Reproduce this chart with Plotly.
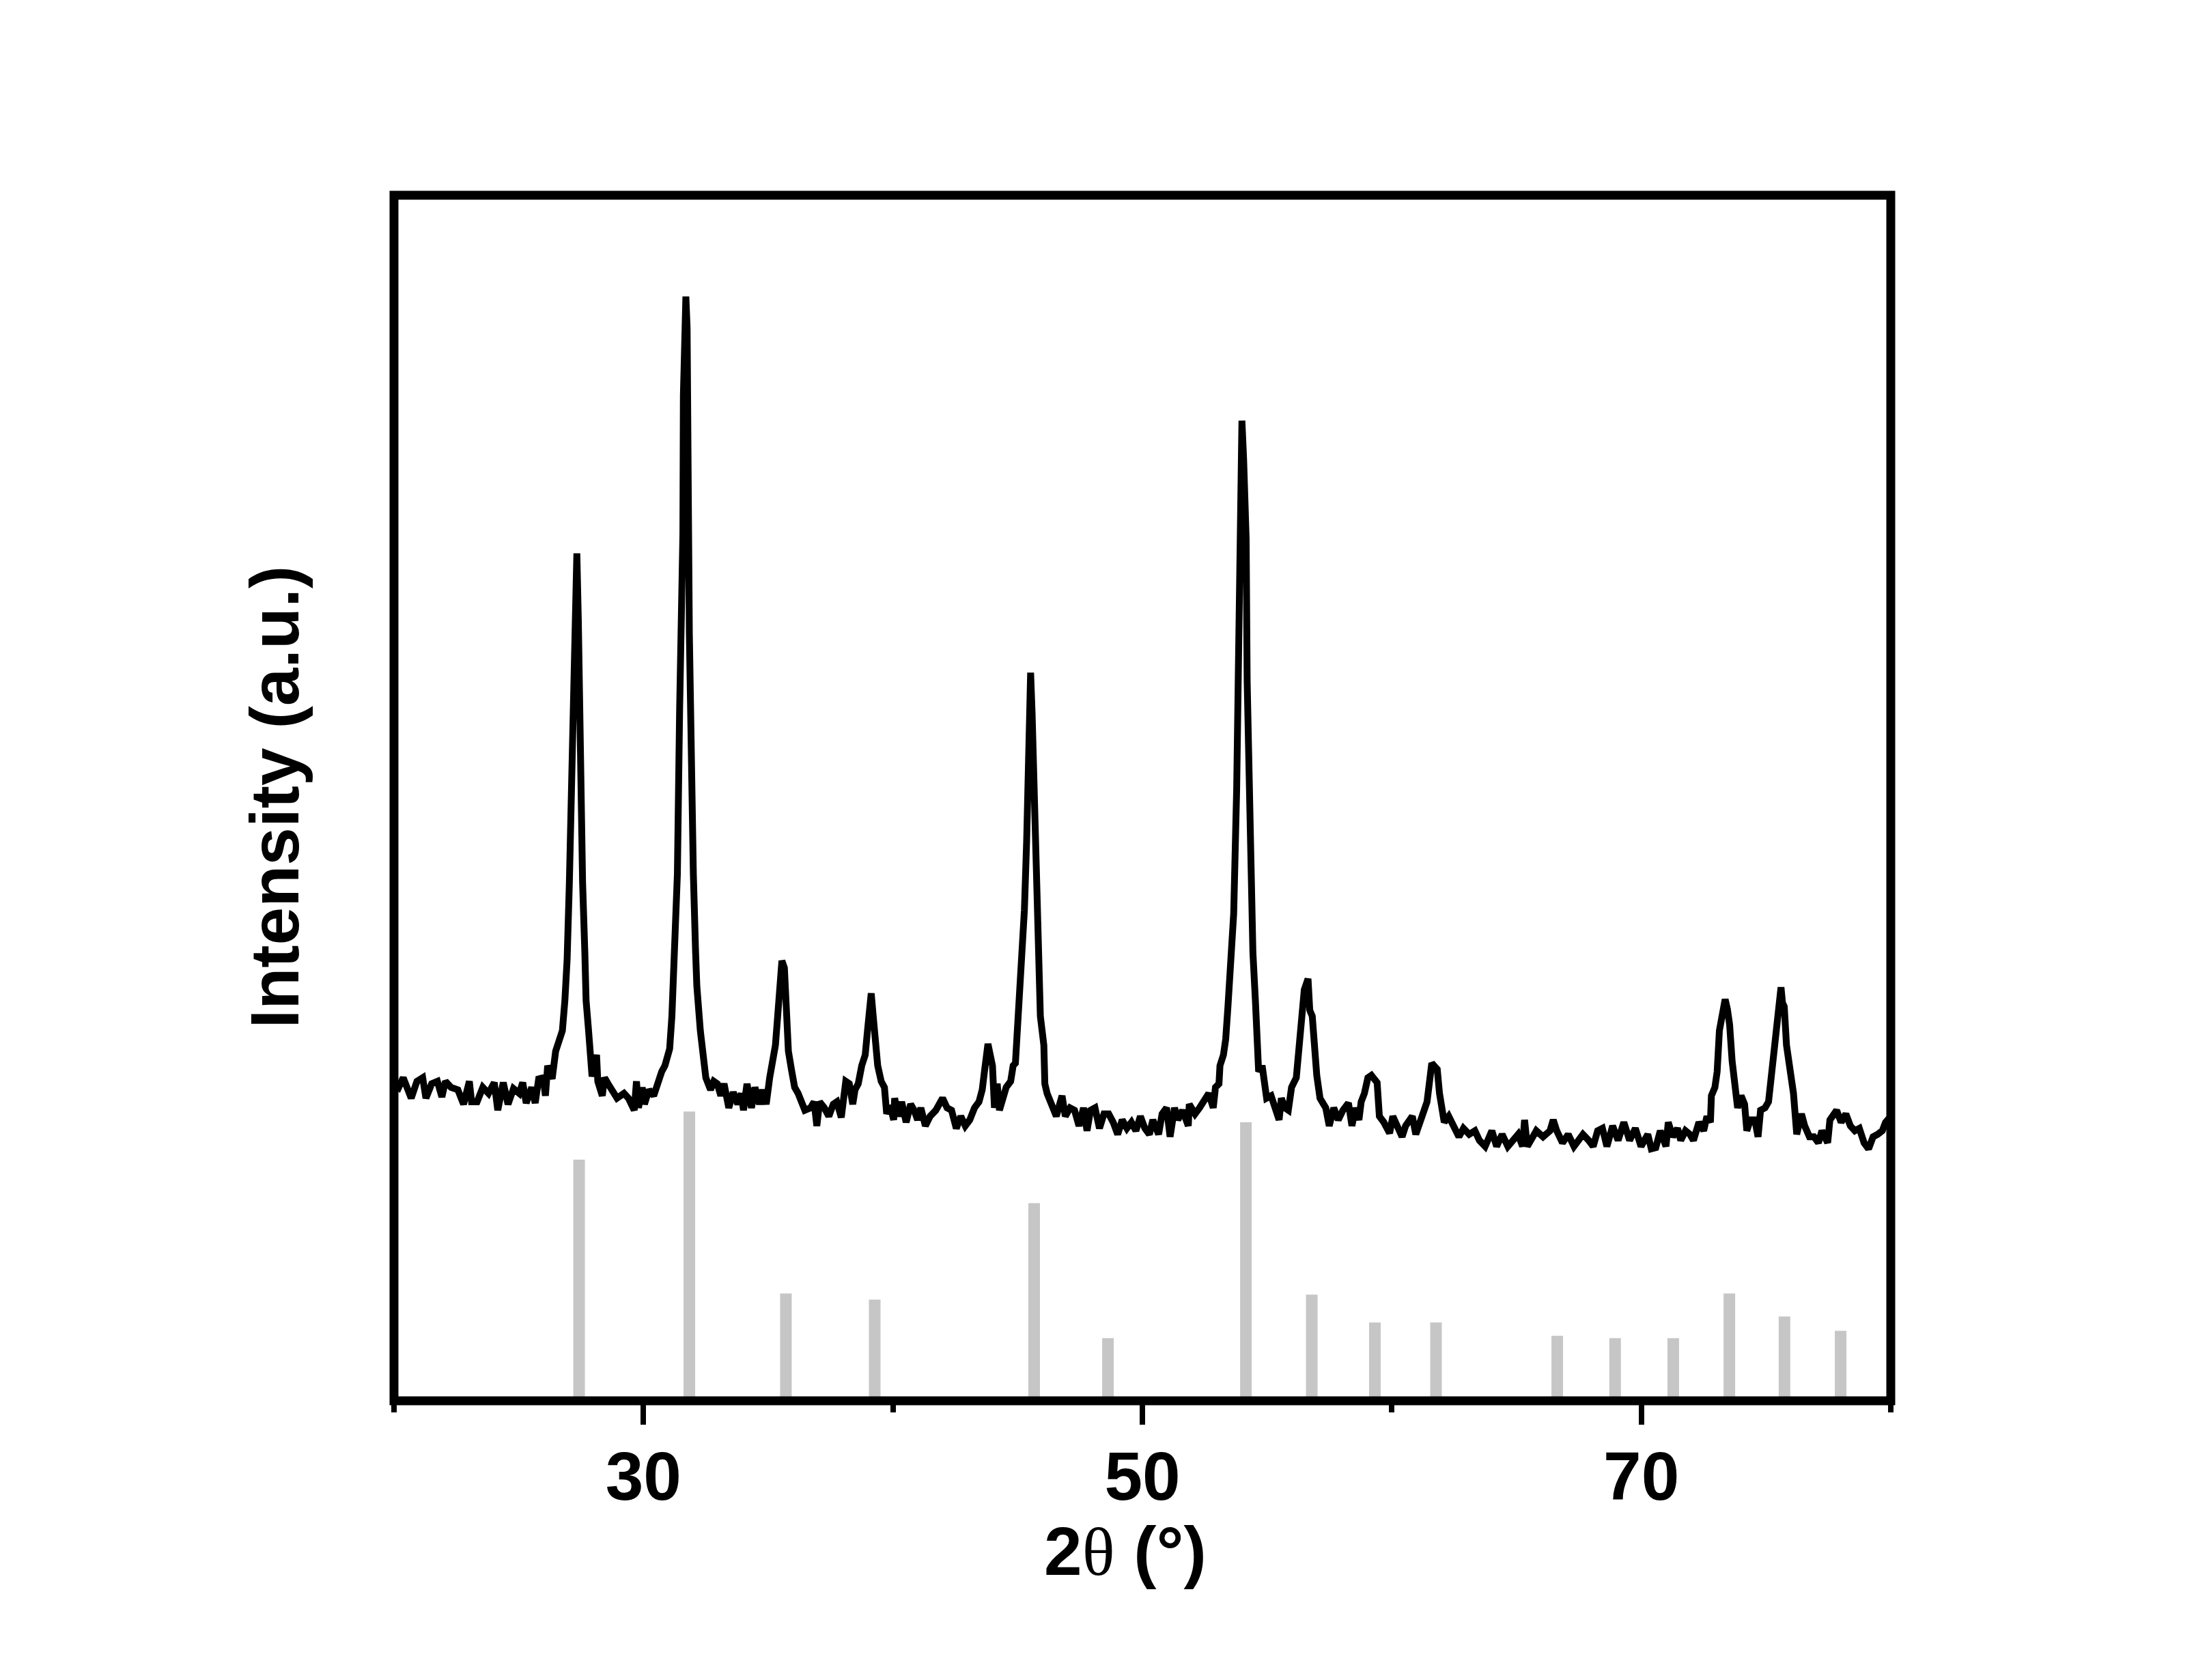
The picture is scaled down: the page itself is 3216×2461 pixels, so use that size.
import plotly.graph_objects as go

# ---- observed XRD pattern (2theta in degrees, intensity in arbitrary units) ----
two_theta = [
    20.02, 20.19, 20.37, 20.69, 20.92, 21.15, 21.28, 21.51, 21.74, 21.92, 22.06, 22.29, 22.56, 22.79,
    23.02, 23.11, 23.33, 23.56, 23.79, 24.02, 24.16, 24.38, 24.57, 24.79, 25.02, 25.16, 25.30, 25.52,
    25.66, 25.80, 25.98, 26.07, 26.16, 26.34, 26.48, 26.62, 26.75, 26.85, 26.94,
    27.03, 27.12, 27.19, 27.23, 27.33, 27.39, 27.44, 27.50, 27.56, 27.65,
    27.70, 27.80, 27.89, 27.94, 28.12, 28.17, 28.35, 28.44, 28.58, 28.76, 28.94, 29.22, 29.40, 29.63,
    29.72, 29.80, 29.95, 30.04, 30.22, 30.41, 30.59, 30.73, 30.86, 30.95, 31.05, 31.14, 31.23,
    31.27, 31.36, 31.45, 31.50, 31.58, 31.60, 31.65, 31.70, 31.75, 31.79, 31.81, 31.84, 31.88, 31.94,
    32.00, 32.09,
    32.14, 32.28, 32.41, 32.50, 32.69, 32.82, 32.96, 33.10, 33.23, 33.42, 33.60, 33.78, 33.92, 34.01,
    34.15, 34.33, 34.47, 34.65, 34.78, 34.92, 35.06, 35.15, 35.29, 35.38, 35.47, 35.55, 35.65, 35.71,
    35.81, 35.93, 36.06, 36.20, 36.33, 36.47, 36.70, 36.84, 36.95, 37.06, 37.25, 37.43, 37.61, 37.75,
    37.93, 38.02, 38.11, 38.25, 38.39, 38.48, 38.61, 38.75, 38.89, 38.98, 39.07, 39.13, 39.21, 39.30,
    39.39, 39.53, 39.66, 39.75, 39.89, 40.03, 40.07, 40.21, 40.35, 40.53, 40.71, 40.85, 40.99, 41.12,
    41.30, 41.49, 41.72, 41.99, 42.17, 42.35, 42.54, 42.72, 42.90, 43.08, 43.27, 43.45, 43.58, 43.68,
    43.75, 43.81, 43.90, 43.99, 44.07, 44.18, 44.27, 44.41, 44.54, 44.72, 44.82, 44.91, 45.00, 45.09,
    45.22, 45.27, 45.36, 45.43, 45.48, 45.52, 45.58, 45.65, 45.70, 45.77, 45.81,
    45.91, 46.05, 46.09, 46.18, 46.37, 46.55, 46.78, 46.91, 47.10, 47.28, 47.46, 47.64, 47.78, 47.92,
    48.10, 48.28, 48.46, 48.65, 48.83, 49.01, 49.19, 49.38, 49.56, 49.74, 49.92, 50.10, 50.28, 50.42,
    50.65, 50.79, 50.97, 51.11, 51.29, 51.42, 51.61, 51.84, 51.88, 52.11, 52.29, 52.47, 52.66, 52.84,
    52.93, 53.07, 53.11, 53.25, 53.34, 53.43, 53.52,
    53.59, 53.66, 53.78, 53.86, 53.93, 53.96, 53.99, 54.06, 54.16, 54.20, 54.28, 54.39, 54.43,
    54.53, 54.62, 54.66, 54.80, 54.89, 54.98, 55.16, 55.30, 55.48, 55.57, 55.71, 55.85, 55.98, 56.17,
    56.26, 56.39, 56.49, 56.64, 56.71, 56.81, 56.90, 56.99, 57.12, 57.35, 57.49, 57.67, 57.85, 58.04,
    58.26, 58.40, 58.54, 58.68, 58.77, 58.90, 59.04, 59.18, 59.41, 59.50, 59.68, 59.91, 60.04, 60.23,
    60.41, 60.55, 60.82, 60.96, 61.09, 61.23, 61.41, 61.50, 61.60, 61.69, 61.82, 61.91, 62.00, 62.10,
    62.28, 62.46, 62.69, 62.87, 63.10, 63.33, 63.51, 63.74, 64.01, 64.20, 64.42, 64.65, 64.88, 65.06,
    65.24, 65.32, 65.43, 65.61, 65.79, 66.06, 66.34, 66.47, 66.61, 66.84, 67.07, 67.30, 67.48, 67.66,
    67.89, 68.07, 68.25, 68.44, 68.62, 68.85, 69.07, 69.30, 69.53, 69.76, 69.99, 70.26, 70.40, 70.58,
    70.76, 70.99, 71.08, 71.26, 71.45, 71.58, 71.77, 71.95, 72.09, 72.31, 72.50, 72.63, 72.77, 72.81,
    72.95, 73.04, 73.13, 73.23, 73.36, 73.45, 73.54, 73.64, 73.77, 73.86, 74.00, 74.14, 74.23, 74.37,
    74.55, 74.68, 74.78, 74.96, 75.10, 75.23, 75.37, 75.50, 75.60, 75.66, 75.73, 75.82, 75.96, 76.10,
    76.23, 76.42, 76.55, 76.74, 76.92, 77.10, 77.24, 77.47, 77.56, 77.69, 77.83, 78.01, 78.20, 78.38,
    78.56, 78.74, 78.93, 79.11, 79.29, 79.47, 79.66, 79.79, 80.00,
]

intensity = [
    26.3, 26.0, 26.8, 25.1, 26.5, 26.8, 25.1, 26.3, 26.5, 25.2, 26.5, 26.0, 25.8, 24.6,
    26.5, 24.8, 24.8, 26.0, 25.5, 26.4, 24.1, 26.4, 24.6, 25.9, 25.5, 26.4, 24.7, 26.0,
    24.7, 26.7, 26.8, 25.3, 27.8, 26.7, 29.0, 29.7, 30.7, 33.2, 36.6,
    43.0, 50.5, 57.4, 64.7, 70.3, 64.7, 57.4, 50.0, 43.0, 37.2,
    33.2, 30.7, 28.2, 26.9, 28.7, 26.5, 25.3, 26.8, 26.3, 25.8, 25.1, 25.5, 25.1, 24.1,
    26.5, 24.3, 26.0, 24.6, 25.8, 25.3, 26.5, 27.3, 27.8, 28.5, 29.2, 31.9, 35.6,
    37.2, 43.7, 57.4, 63.6, 71.9, 83.4, 89.5, 91.6, 89.0, 83.4, 71.9, 63.6, 57.4, 50.0,
    43.7, 37.2,
    34.4, 30.7, 27.8, 26.8, 25.8, 26.5, 26.3, 25.3, 26.3, 24.3, 25.6, 24.6, 25.5, 24.1,
    26.3, 24.3, 26.0, 24.6, 25.8, 24.6, 26.8, 27.8, 29.5, 31.9, 35.6, 36.5, 35.9, 33.2,
    29.0, 27.5, 26.0, 25.5, 24.6, 24.1, 24.3, 24.8, 22.8, 24.8, 24.3, 23.6, 24.6, 24.8,
    23.5, 25.1, 26.5, 26.3, 24.6, 25.8, 26.3, 27.8, 28.7, 30.7, 33.2, 33.8, 31.9, 29.5,
    27.8, 26.5, 26.0, 23.8, 24.5, 23.3, 25.1, 23.6, 24.8, 23.1, 24.6, 24.1, 23.3, 24.3,
    22.8, 23.6, 24.1, 25.1, 24.3, 24.1, 22.6, 23.6, 22.8, 23.3, 24.3, 24.8, 25.8, 27.5,
    29.2, 29.6, 28.7, 27.8, 24.3, 26.3, 24.1, 25.1, 26.0, 26.5, 27.8, 28.0, 31.2, 33.2,
    36.9, 40.7, 46.4, 51.6, 57.0, 60.4, 57.0, 51.6, 46.4, 40.7, 36.9,
    31.9, 29.5, 26.3, 25.5, 24.3, 23.6, 25.3, 23.6, 24.3, 24.1, 22.8, 24.3, 22.4, 24.1,
    24.3, 22.6, 23.8, 23.8, 23.1, 22.1, 23.3, 22.6, 23.1, 22.4, 23.6, 22.6, 22.1, 23.3,
    22.1, 23.8, 24.3, 21.9, 24.3, 23.3, 24.1, 22.8, 24.6, 23.8, 24.3, 24.8, 25.5, 24.3,
    26.0, 26.3, 27.8, 28.7, 30.0, 32.7, 35.6,
    37.2, 40.4, 50.8, 59.7, 71.5, 77.5, 81.3, 78.0, 71.5, 59.7, 50.8, 40.4, 37.2,
    33.2, 29.5, 27.3, 27.8, 26.3, 25.1, 25.3, 24.3, 23.3, 25.1, 24.3, 24.1, 26.0, 26.8,
    28.7, 30.7, 34.1, 35.0, 32.4, 31.9, 29.0, 27.0, 25.1, 24.3, 22.8, 24.3, 23.3, 24.1,
    24.7, 22.8, 24.3, 23.3, 24.8, 25.5, 26.8, 27.0, 26.4, 23.6, 23.1, 22.2, 23.6, 22.8,
    21.9, 22.8, 23.6, 22.1, 22.8, 23.6, 24.8, 26.3, 28.0, 27.8, 27.5, 25.5, 24.3, 23.1,
    23.6, 22.8, 21.9, 22.6, 22.1, 22.4, 21.6, 21.1, 22.4, 21.1, 22.1, 21.1, 21.6, 22.1,
    21.1, 23.3, 21.1, 21.9, 22.4, 21.9, 22.4, 23.3, 22.4, 21.4, 22.1, 21.1, 21.6, 22.1,
    21.6, 21.1, 22.4, 22.6, 21.1, 22.8, 21.6, 23.1, 21.6, 22.6, 21.1, 22.1, 20.9, 21.0,
    22.4, 21.1, 23.1, 21.9, 22.6, 21.6, 22.4, 22.1, 21.6, 23.1, 22.4, 23.6, 23.1, 25.3,
    26.0, 27.3, 30.7, 31.9, 33.3, 32.5, 31.2, 28.2, 26.3, 24.3, 25.3, 24.6, 22.4, 23.3,
    23.3, 21.9, 24.1, 24.3, 24.8, 27.5, 30.2, 31.9, 34.3, 33.0, 32.7, 29.5, 27.8, 25.5,
    22.1, 23.8, 22.8, 21.9, 21.9, 21.4, 22.4, 21.4, 23.3, 23.6, 24.1, 23.1, 23.8, 22.8,
    22.4, 22.6, 21.4, 20.9, 21.9, 22.1, 22.4, 23.1, 23.6,
]

# ---- reference (standard card) stick positions and heights ----
ref_positions = [27.42, 31.84, 35.71, 39.27, 45.66, 48.62, 54.15, 56.79, 59.32, 61.77,
                 66.63, 68.95, 71.28, 73.53, 75.74, 77.99]
ref_heights = [20.0, 24.0, 8.9, 8.4, 16.4, 5.2, 23.1, 8.8, 6.5, 6.5,
               5.4, 5.2, 5.2, 8.9, 7.0, 5.8]

# ---- axis ticks ----
major_ticks = [30, 50, 70]
major_labels = ["30", "50", "70"]
minor_ticks = [20, 40, 60, 80]

stick_x, stick_y = [], []
for p, h in zip(ref_positions, ref_heights):
    stick_x += [p, p, None]
    stick_y += [0, h, None]

fig = go.Figure()
fig.add_trace(go.Scatter(x=stick_x, y=stick_y, mode="lines",
                         line=dict(color="#c6c6c6", width=17),
                         hoverinfo="skip", showlegend=False))
fig.add_trace(go.Scatter(x=two_theta, y=intensity, mode="lines",
                         line=dict(color="black", width=10),
                         showlegend=False))

FONT = "Liberation Sans, Arial, sans-serif"

fig.update_layout(
    width=3200, height=2445,
    margin=dict(l=569, r=439, t=278, b=401, autoexpand=False),
    paper_bgcolor="white", plot_bgcolor="white",
    showlegend=False,
    xaxis=dict(
        range=[20, 80], showgrid=False, zeroline=False, showline=False,
        tickmode="array", tickvals=major_ticks, ticktext=major_labels,
        ticks="outside", ticklen=34, tickwidth=8, tickcolor="black",
        ticklabelstandoff=-10,
        tickfont=dict(family=FONT, size=100, color="black", weight="bold"),
        minor=dict(tickmode="array", tickvals=minor_ticks, ticks="outside",
                   ticklen=16, tickwidth=8, tickcolor="black", showgrid=False),
        automargin=False,
    ),
    yaxis=dict(
        range=[0, 100], showgrid=False, zeroline=False, showline=False,
        showticklabels=False, ticks="", automargin=False,
    ),
    shapes=[dict(type="rect", xref="paper", yref="paper", x0=0, x1=1, y0=0, y1=1,
                 line=dict(color="black", width=13), layer="above")],
    annotations=[
        dict(text="2<span style=\"font-family:Liberation Serif;font-weight:normal\">θ</span> (°)",
             xref="paper", yref="paper", x=0.4886, y=-0.1248,
             xanchor="center", yanchor="middle", showarrow=False,
             font=dict(family=FONT, size=100, color="black", weight="bold")),
        dict(text="Intensity (a.u.)", textangle=-90,
             xref="paper", yref="paper", x=-0.0800, y=0.5006,
             xanchor="center", yanchor="middle", showarrow=False,
             font=dict(family=FONT, size=100, color="black", weight="bold")),
    ],
)

fig.write_html("out.html")
